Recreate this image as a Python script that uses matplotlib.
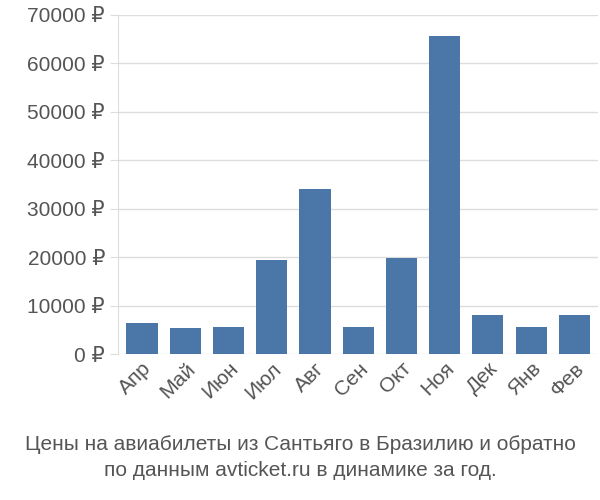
import matplotlib.pyplot as plt

plt.rcParams['font.family'] = ['Liberation Sans', 'DejaVu Sans']

months = ["Апр", "Май", "Июн", "Июл", "Авг", "Сен", "Окт", "Ноя", "Дек", "Янв", "Фев"]
prices = [6400, 5400, 5600, 19400, 34000, 5600, 19900, 65700, 8100, 5600, 8100]
yticks = [0, 10000, 20000, 30000, 40000, 50000, 60000, 70000]

fig = plt.figure(figsize=(6, 5), dpi=100)
ax = fig.add_axes([0.197, 0.292, 0.8, 0.678])
ax.bar(range(len(months)), prices, width=0.72, color="#4a76a8", zorder=3)
ax.set_xlim(-0.55, len(months) - 0.45)
ax.set_ylim(0, 70000)
ax.set_yticks(yticks)
ax.set_yticklabels([f"{v} ₽" for v in yticks], fontsize=15, color="#555555")
ax.set_xticks(range(len(months)))
ax.set_xticklabels(months, rotation=45, ha="right", rotation_mode="anchor",
                   fontsize=15, color="#555555")
ax.grid(axis="y", color="#dddddd", linewidth=1, zorder=0)
for s in ["top", "right", "bottom"]:
    ax.spines[s].set_visible(False)
ax.spines["left"].set_color("#dddddd")
ax.tick_params(axis="both", length=6, color="#dddddd")
ax.tick_params(axis="x", length=0)

fig.text(0.5, 0.085, "Цены на авиабилеты из Сантьяго в Бразилию и обратно\nпо данным avticket.ru в динамике за год.",
         ha="center", va="center", fontsize=15, color="#555555", linespacing=1.4)

fig.savefig("out.png")
